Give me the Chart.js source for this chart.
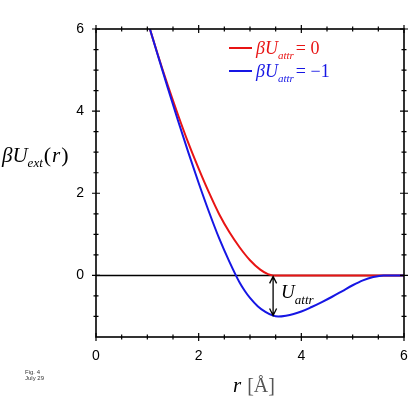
<!DOCTYPE html>
<html lang="en">
<head>
<meta charset="UTF-8">
<title>External potential</title>
<script src="https://cdn.jsdelivr.net/npm/chart.js"></script>
<style>
  html, body { margin: 0; padding: 0; background: #fff; }
  #wrap { position: relative; width: 412px; height: 418px; }
</style>
</head>
<body>
<div id="wrap"><canvas id="potChart"></canvas></div>
<script>
// r in Angstrom vs beta*U_ext
const rRed = [1.05, 1.2, 1.4, 1.6, 1.8, 2.0, 2.2, 2.4, 2.6, 2.8, 3.0, 3.2, 3.35, 3.45, 4.0, 5.0, 6.0];
const uRed = [6.0, 5.39, 4.62, 3.9, 3.22, 2.6, 2.02, 1.49, 1.05, 0.68, 0.37, 0.14, 0.03, 0, 0, 0, 0];

const rBlue = [1.05, 1.2, 1.4, 1.6, 1.8, 2.0, 2.2, 2.4, 2.6, 2.8, 2.9, 3.0, 3.15, 3.3, 3.45, 3.55, 3.7, 3.85, 4.0, 4.2, 4.4, 4.6, 4.8, 5.0, 5.2, 5.4, 5.6, 6.0];
const uBlue = [6.0, 5.38, 4.56, 3.76, 2.99, 2.25, 1.55, 0.9, 0.33, -0.18, -0.38, -0.55, -0.75, -0.89, -0.98, -1.0, -0.98, -0.94, -0.88, -0.77, -0.65, -0.52, -0.38, -0.24, -0.12, -0.04, 0, 0];

const xTicks = [0, 2, 4, 6];
const yTicks = [0, 2, 4, 6];
const xMinor = [0.5, 1, 1.5, 2.5, 3, 3.5, 4.5, 5, 5.5];
const yMinor = [-1, -0.5, 0.5, 1, 1.5, 2.5, 3, 3.5, 4.5, 5, 5.5];
const legendValues = ['0', '\u22121'];
const arrowR = 3.45;   // where U_attr is marked
const arrowDepth = -1;

const RED = 'rgb(232,20,20)';
const BLUE = 'rgb(22,22,228)';
const serifIt = s => 'italic ' + s + 'px "Liberation Serif"';
const serif = s => s + 'px "Liberation Serif"';

// draw a run of text pieces one after another
function mathText(ctx, x, y, parts) {
    parts.forEach(p => {
        ctx.font = p.font;
        ctx.fillStyle = p.color || '#000';
        ctx.fillText(p.t, x, y + (p.dy || 0));
        x += ctx.measureText(p.t).width + (p.gap || 0);
    });
}

const frame = {
    id: 'frame',
    beforeDatasetsDraw(chart) {
        const {ctx, chartArea: a, scales: {y}} = chart;
        const y0 = y.getPixelForValue(0);
        ctx.save();
        ctx.strokeStyle = '#000';
        ctx.lineWidth = 1.5;
        ctx.beginPath();
        ctx.moveTo(a.left, y0);
        ctx.lineTo(a.right, y0);
        ctx.stroke();
        ctx.restore();
    },
    afterDraw(chart) {
        const {ctx, chartArea: a, scales: {x, y}} = chart;
        ctx.save();
        ctx.strokeStyle = '#000';
        ctx.lineWidth = 1.6;
        ctx.strokeRect(a.left, a.top, a.right - a.left, a.bottom - a.top);

        // ticks crossing the frame on all four sides
        ctx.lineWidth = 1.2;
        const tickX = (v, len) => {
            const px = x.getPixelForValue(v);
            ctx.beginPath();
            ctx.moveTo(px, a.bottom - len); ctx.lineTo(px, a.bottom + len);
            ctx.moveTo(px, a.top - len); ctx.lineTo(px, a.top + len);
            ctx.stroke();
        };
        const tickY = (v, len) => {
            const py = y.getPixelForValue(v);
            ctx.beginPath();
            ctx.moveTo(a.left - len, py); ctx.lineTo(a.left + len, py);
            ctx.moveTo(a.right - len, py); ctx.lineTo(a.right + len, py);
            ctx.stroke();
        };
        xTicks.forEach(v => tickX(v, 4));
        xMinor.forEach(v => tickX(v, 2.5));
        yTicks.forEach(v => tickY(v, 4));
        yMinor.forEach(v => tickY(v, 2.5));

        // double arrow for U_attr
        const ax = x.getPixelForValue(arrowR);
        const ay0 = y.getPixelForValue(0) + 1;
        const ay1 = y.getPixelForValue(arrowDepth) - 1;
        ctx.lineWidth = 1.3;
        ctx.beginPath();
        ctx.moveTo(ax, ay0); ctx.lineTo(ax, ay1);
        ctx.moveTo(ax - 3.5, ay0 + 7); ctx.lineTo(ax, ay0); ctx.lineTo(ax + 3.5, ay0 + 7);
        ctx.moveTo(ax - 3.5, ay1 - 7); ctx.lineTo(ax, ay1); ctx.lineTo(ax + 3.5, ay1 - 7);
        ctx.stroke();
        ctx.textBaseline = 'alphabetic';
        mathText(ctx, ax + 8, y.getPixelForValue(-0.55), [
            {t: 'U', font: serifIt(19)},
            {t: 'attr', font: serifIt(13), dy: 6}
        ]);

        // legend
        const colors = [RED, BLUE];
        legendValues.forEach((v, i) => {
            const ly = 48 + i * 23;
            ctx.strokeStyle = colors[i];
            ctx.lineWidth = 2;
            ctx.beginPath();
            ctx.moveTo(229, ly); ctx.lineTo(252, ly);
            ctx.stroke();
            mathText(ctx, 256, ly + 6, [
                {t: '\u03B2U', font: serifIt(18), color: colors[i]},
                {t: 'attr', font: serifIt(11), dy: 5, color: colors[i], gap: 2},
                {t: '= ' + v, font: serif(18), color: colors[i]}
            ]);
        });

        // y axis title
        mathText(ctx, 2, 162, [
            {t: '\u03B2U', font: serifIt(21)},
            {t: 'ext', font: serifIt(13), dy: 5, gap: 1},
            {t: '(', font: serif(22), gap: 1},
            {t: 'r', font: serifIt(21), gap: 1},
            {t: ')', font: serif(22)}
        ]);

        // x axis title
        mathText(ctx, 233, 392, [
            {t: 'r', font: serifIt(21), gap: 6},
            {t: '[\u00C5]', font: serif(20), color: '#555'}
        ]);

        // figure note
        ctx.font = '6px "Liberation Sans"';
        ctx.fillStyle = '#333';
        ctx.fillText('Fig. 4', 25, 374);
        ctx.fillText('July 29', 25, 380);
        ctx.restore();
    }
};

new Chart(document.getElementById('potChart'), {
    type: 'scatter',
    data: {
        datasets: [{
            label: '\u03B2U_attr = 0',
            data: rRed.map((r, i) => ({x: r, y: uRed[i]})),
            showLine: true,
            borderColor: RED,
            borderWidth: 2,
            pointRadius: 0,
            cubicInterpolationMode: 'monotone',
            order: 2
        }, {
            label: '\u03B2U_attr = \u22121',
            data: rBlue.map((r, i) => ({x: r, y: uBlue[i]})),
            showLine: true,
            borderColor: BLUE,
            borderWidth: 2,
            pointRadius: 0,
            cubicInterpolationMode: 'monotone',
            order: 1
        }]
    },
    options: {
        responsive: true,
        maintainAspectRatio: false,
        animation: false,
        layout: {padding: {top: 29, right: 8, left: 0, bottom: 0}},
        plugins: {legend: {display: false}, tooltip: {enabled: false}},
        scales: {
            x: {
                type: 'linear', min: 0, max: 6,
                grid: {display: false, drawTicks: false},
                border: {display: false},
                afterBuildTicks: s => { s.ticks = xTicks.map(v => ({value: v})); },
                afterFit: s => { s.height = 81; s.paddingLeft = 0; s.paddingRight = 0; },
                ticks: {padding: 11, color: '#000', font: {family: 'Liberation Sans', size: 14}}
            },
            y: {
                type: 'linear', min: -1.5, max: 6,
                grid: {display: false, drawTicks: false},
                border: {display: false},
                afterBuildTicks: s => { s.ticks = yTicks.map(v => ({value: v})); },
                afterFit: s => { s.width = 96; s.paddingTop = 0; s.paddingBottom = 0; },
                ticks: {padding: 12, color: '#000', font: {family: 'Liberation Sans', size: 14}}
            }
        }
    },
    plugins: [frame]
});
</script>
</body>
</html>
